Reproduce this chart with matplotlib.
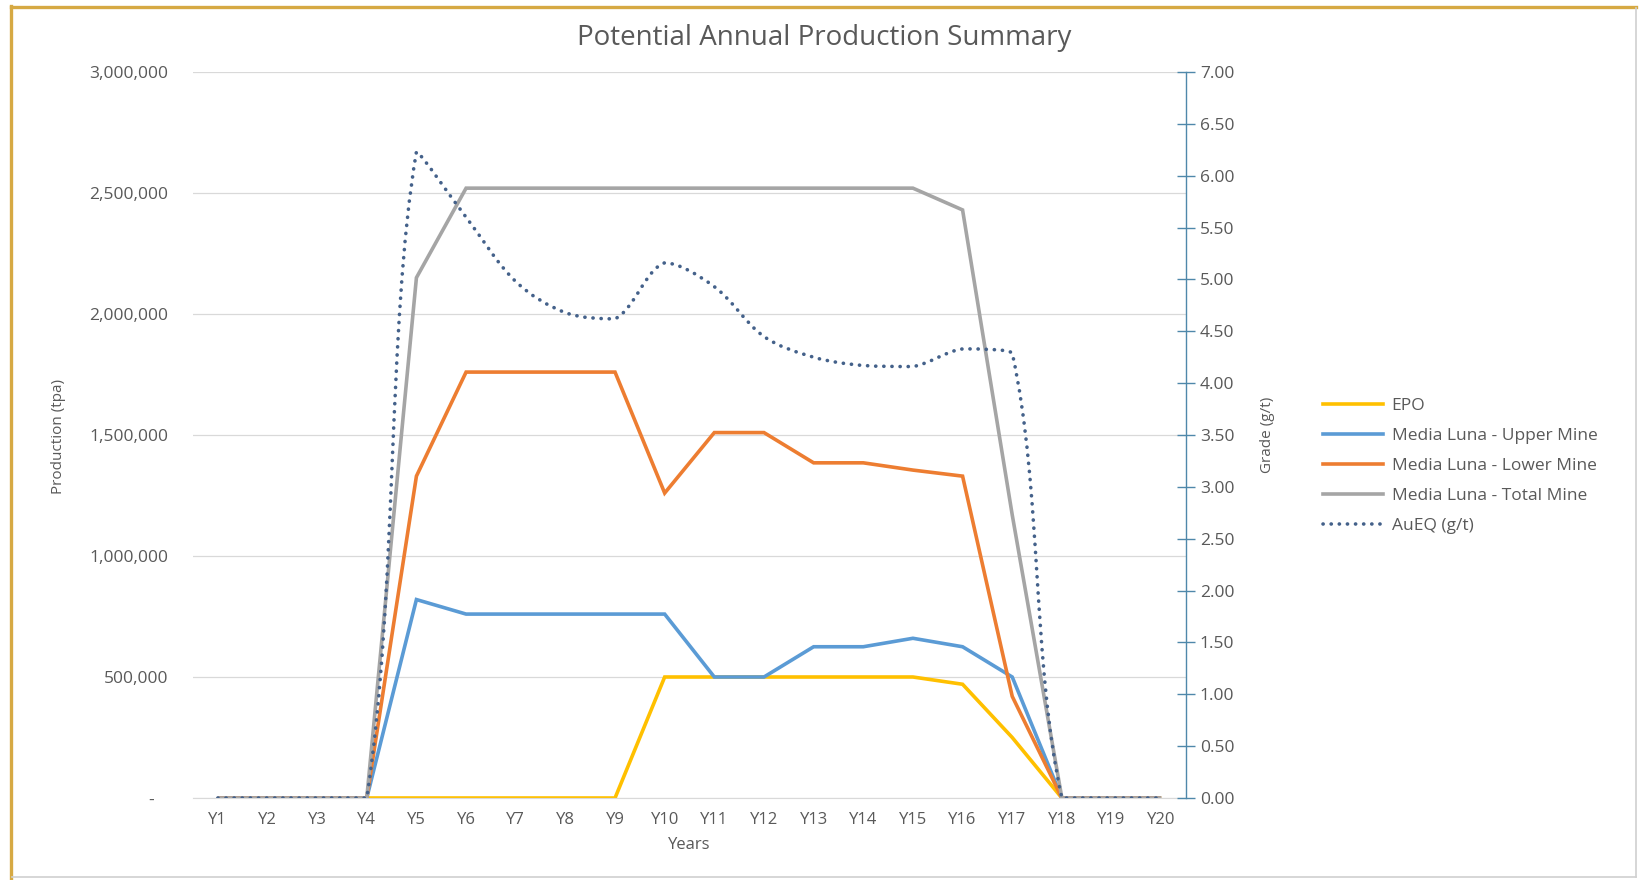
import numpy as np
import matplotlib
matplotlib.use("Agg")
import matplotlib.pyplot as plt
from matplotlib.path import Path
from matplotlib.patches import PathPatch
from matplotlib.lines import Line2D
from matplotlib.ticker import FuncFormatter, MultipleLocator

plt.rcParams['font.family'] = ['Open Sans', 'DejaVu Sans']

# ---- data -------------------------------------------------------------
years = [f"Y{i}" for i in range(1, 21)]

epo = [0, 0, 0, 0, 0, 0, 0, 0, 0, 500000, 500000, 500000, 500000, 500000,
       500000, 470000, 250000, 0, 0, 0]
upper_mine = [0, 0, 0, 0, 820000, 760000, 760000, 760000, 760000, 760000,
              500000, 500000, 625000, 625000, 660000, 625000, 500000, 0, 0, 0]
lower_mine = [0, 0, 0, 0, 1330000, 1760000, 1760000, 1760000, 1760000,
              1260000, 1510000, 1510000, 1385000, 1385000, 1355000, 1330000,
              420000, 0, 0, 0]
total_mine = [0, 0, 0, 0, 2150000, 2520000, 2520000, 2520000, 2520000,
              2520000, 2520000, 2520000, 2520000, 2520000, 2520000, 2430000,
              1170000, 0, 0, 0]
aueq = [0, 0, 0, 0, 6.23, 5.60, 4.98, 4.68, 4.62, 5.16, 4.93, 4.45, 4.25,
        4.17, 4.16, 4.33, 4.29, 0, 0, 0]

series_labels = ["EPO", "Media Luna - Upper Mine", "Media Luna - Lower Mine",
                 "Media Luna - Total Mine", "AuEQ (g/t)"]
series_colors = ["#FFC000", "#5B9BD5", "#ED7D31", "#A5A5A5", "#44618A"]

# ---- figure -----------------------------------------------------------
W, H = 1640, 880
fig = plt.figure(figsize=(W / 100, H / 100), dpi=100)
fig.patch.set_facecolor("white")

left_px, right_px, top_px, bottom_px = 193, 1186, 72, 798
ax = fig.add_axes([left_px / W, 1 - bottom_px / H,
                   (right_px - left_px) / W, (bottom_px - top_px) / H])
ax2 = ax.twinx()

text_col = "#595959"
grid_col = "#D9D9D9"
axis_col = "#4F88AA"
lw = 2.6

x = np.arange(len(years))
for vals, lab, col in zip([epo, upper_mine, lower_mine, total_mine],
                          series_labels[:4], series_colors[:4]):
    ax.plot(x, vals, color=col, lw=lw, label=lab, solid_joinstyle="miter",
            solid_capstyle="butt")

ax.set_xlim(-0.5, len(years) - 0.5)
ax.set_ylim(0, 3000000)
ax.yaxis.set_major_locator(MultipleLocator(500000))
ax.yaxis.set_major_formatter(
    FuncFormatter(lambda v, p: "-   " if v == 0 else f"{v:,.0f}"))
ax.grid(axis="y", color=grid_col, lw=0.9)
ax.set_axisbelow(True)
ax.set_xticks(x)
ax.set_xticklabels(years)
ax.tick_params(axis="x", length=0, pad=10, labelsize=12, colors=text_col)
ax.tick_params(axis="y", length=0, pad=18, labelsize=12.5, colors=text_col)
for s in ["left", "top", "right"]:
    ax.spines[s].set_visible(False)
ax.spines["bottom"].set_color(grid_col)

# ---- secondary axis: grade -------------------------------------------
ax2.set_ylim(0, 7)
ax2.yaxis.set_major_locator(MultipleLocator(0.5))
ax2.yaxis.set_major_formatter(FuncFormatter(lambda v, p: f"{v:.2f}"))
ax2.tick_params(axis="y", direction="inout", length=13, width=1,
                color=axis_col, pad=3.5, labelsize=12.5, labelcolor=text_col)
for s in ["left", "top", "bottom"]:
    ax2.spines[s].set_visible(False)
ax2.spines["right"].set_color(axis_col)
ax2.spines["right"].set_linewidth(1.0)

# ---- axis titles ------------------------------------------------------
fig.text(59 / W, 1 - 436 / H, "Production (tpa)", rotation=90,
         ha="center", va="center", fontsize=11, color=text_col)
fig.text(1268 / W, 1 - 435 / H, "Grade (g/t)", rotation=90,
         ha="center", va="center", fontsize=11, color=text_col)
fig.text(689 / W, 1 - 845 / H, "Years", ha="center", va="center",
         fontsize=12, color=text_col)


def smooth_path(axis, xs, ys, f=1.0 / 3.0):
    """Bezier smoothing through the points, with tangents weighted by the
    on-screen segment lengths; control points are kept inside each
    segment's vertical range so the curve never overshoots."""
    pts = axis.transData.transform(np.column_stack([xs, ys]))
    n = len(pts)
    verts = [pts[0]]
    codes = [Path.MOVETO]
    for i in range(n - 1):
        p0 = pts[i - 1] if i > 0 else pts[i]
        p1, p2 = pts[i], pts[i + 1]
        p3 = pts[i + 2] if i + 2 < n else pts[i + 1]
        d01 = np.hypot(*(p1 - p0))
        d12 = np.hypot(*(p2 - p1))
        d23 = np.hypot(*(p3 - p2))
        c1 = p1 + (p2 - p0) * f * d12 / (d01 + d12) if d01 + d12 > 0 else p1.copy()
        c2 = p2 - (p3 - p1) * f * d12 / (d12 + d23) if d12 + d23 > 0 else p2.copy()
        lo, hi = min(p1[1], p2[1]), max(p1[1], p2[1])
        c1[1] = np.clip(c1[1], lo, hi)
        c2[1] = np.clip(c2[1], lo, hi)
        verts += [c1, c2, p2]
        codes += [Path.CURVE4] * 3
    verts = axis.transData.inverted().transform(np.array(verts))
    return Path(verts, codes)


dot_style = dict(color=series_colors[4], lw=2.6, linestyle=(0, (0.05, 2.2)))
patch = PathPatch(smooth_path(ax2, x, aueq), fill=False,
                  edgecolor=dot_style["color"], lw=dot_style["lw"],
                  linestyle=dot_style["linestyle"], capstyle="round",
                  joinstyle="round")
ax2.add_patch(patch)

# ---- legend -----------------------------------------------------------
handles = [Line2D([], [], color=c, lw=lw) for c in series_colors[:4]]
handles.append(Line2D([], [], dash_capstyle="round", **dot_style))
fig.legend(handles, series_labels, loc="upper left",
           bbox_to_anchor=(1323 / W, 1 - 398 / H), frameon=False,
           fontsize=12.5, labelcolor=text_col, handlelength=3.45,
           handletextpad=0.5, labelspacing=0.8, borderpad=0,
           borderaxespad=0)

# ---- title ------------------------------------------------------------
fig.text(824 / W, 1 - 38 / H, "Potential Annual Production Summary",
         ha="center", va="center", fontsize=20, color=text_col)

# ---- outer frame ------------------------------------------------------
gold = "#D6A943"
edge = "#D0D0D0"
fig.add_artist(Line2D([11 / W, 1636 / W], [1 - 7 / H, 1 - 7 / H],
                      transform=fig.transFigure, color=gold, lw=2.4))
fig.add_artist(Line2D([11 / W, 11 / W], [1 - 6 / H, 1 - 878 / H],
                      transform=fig.transFigure, color=gold, lw=2.4))
fig.add_artist(Line2D([1636 / W, 1636 / W], [1 - 8 / H, 1 - 877 / H],
                      transform=fig.transFigure, color=edge, lw=1.2))
fig.add_artist(Line2D([12 / W, 1636 / W], [1 - 877 / H, 1 - 877 / H],
                      transform=fig.transFigure, color=edge, lw=1.2))

fig.savefig("out.png", dpi=100, facecolor="white")
